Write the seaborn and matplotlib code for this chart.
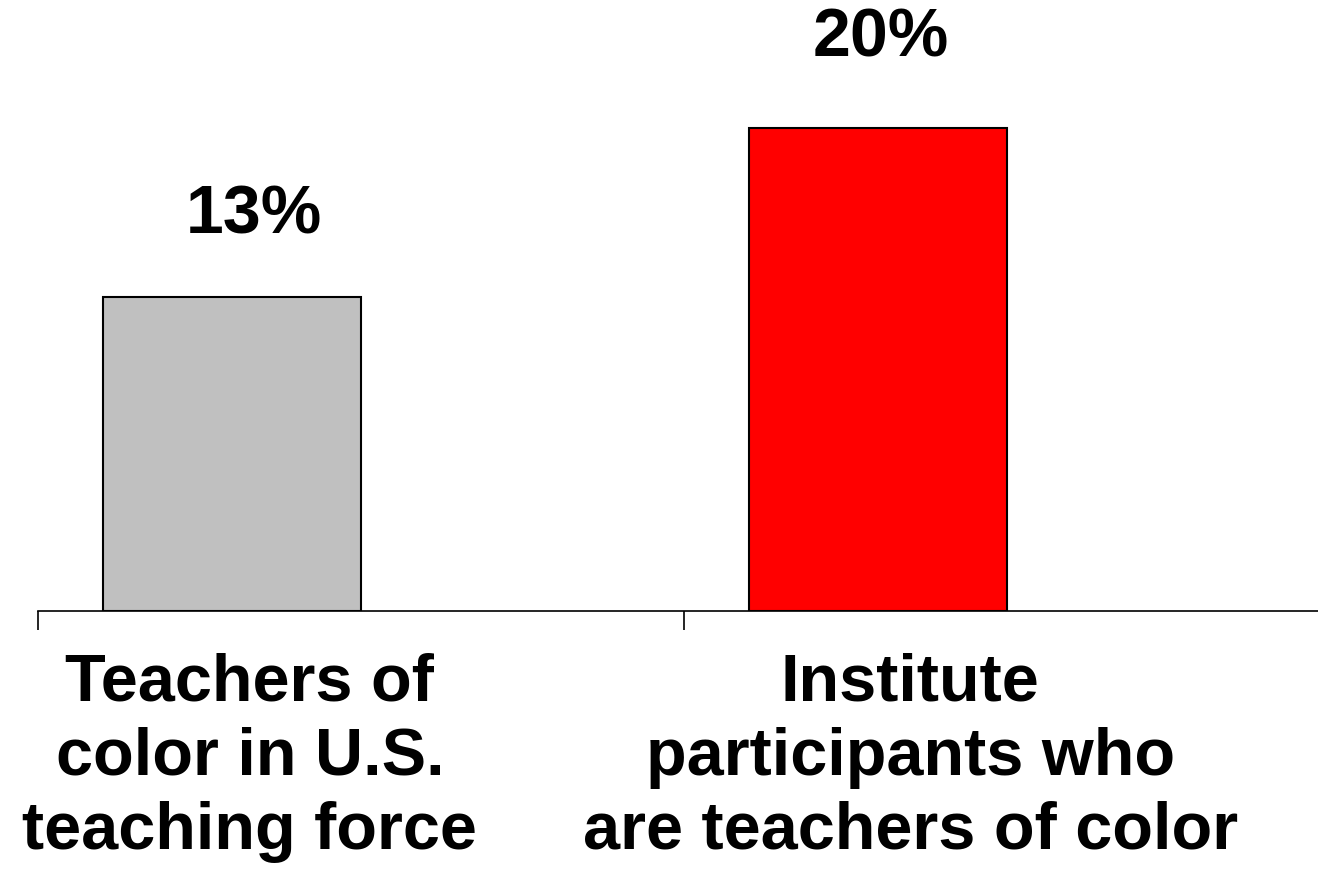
import matplotlib
matplotlib.use("Agg")
import matplotlib.pyplot as plt
import seaborn as sns

# datos
categorias = ["Teachers of\ncolor in U.S.\nteaching force",
              "Institute\nparticipants who\nare teachers of color"]
valores = [13, 20]
etiquetas = ["13%", "20%"]
colores = ["#c0c0c0", "#ff0000"]

# desplazamiento de las etiquetas respecto a la barra
dx = [0.034, 0.005]
dy = [3.36, 3.7]

sns.set_style("white")
plt.rcParams["font.family"] = ["Liberation Sans", "DejaVu Sans"]
plt.rcParams["text.color"] = "black"
plt.rcParams["xtick.color"] = "black"
plt.rcParams["axes.edgecolor"] = "black"

fig = plt.figure(figsize=(13.18, 8.72), dpi=100)
ax = fig.add_axes([0.0288, 0.2993, 0.9712, 0.7007])

sns.barplot(x=categorias, y=valores, hue=categorias, palette=colores,
            saturation=1, width=0.4, edgecolor="black", linewidth=1.5,
            legend=False, ax=ax)

ax.set_xlim(-0.3, 1.681)
ax.set_ylim(0, 25.3)

# etiquetas de valor
for i, (v, t) in enumerate(zip(valores, etiquetas)):
    ax.text(i + dx[i], v + dy[i], t, ha="center", va="center",
            fontsize=49, fontweight="bold", color="black")

# ejes
sns.despine(ax=ax, left=True)
ax.spines["bottom"].set_linewidth(1.2)
ax.set_yticks([])
ax.set_ylabel("")
ax.set_xticks([0.028, 1.05])
ax.set_xticklabels(categorias, fontsize=48, fontweight="bold",
                   linespacing=1.25, color="black")
ax.tick_params(axis="x", which="major", length=0, pad=30)
ax.set_xticks([-0.3, 0.7], minor=True)
ax.tick_params(axis="x", which="minor", bottom=True, length=14, width=1.2,
               color="black")

fig.savefig("out.png", dpi=100)
